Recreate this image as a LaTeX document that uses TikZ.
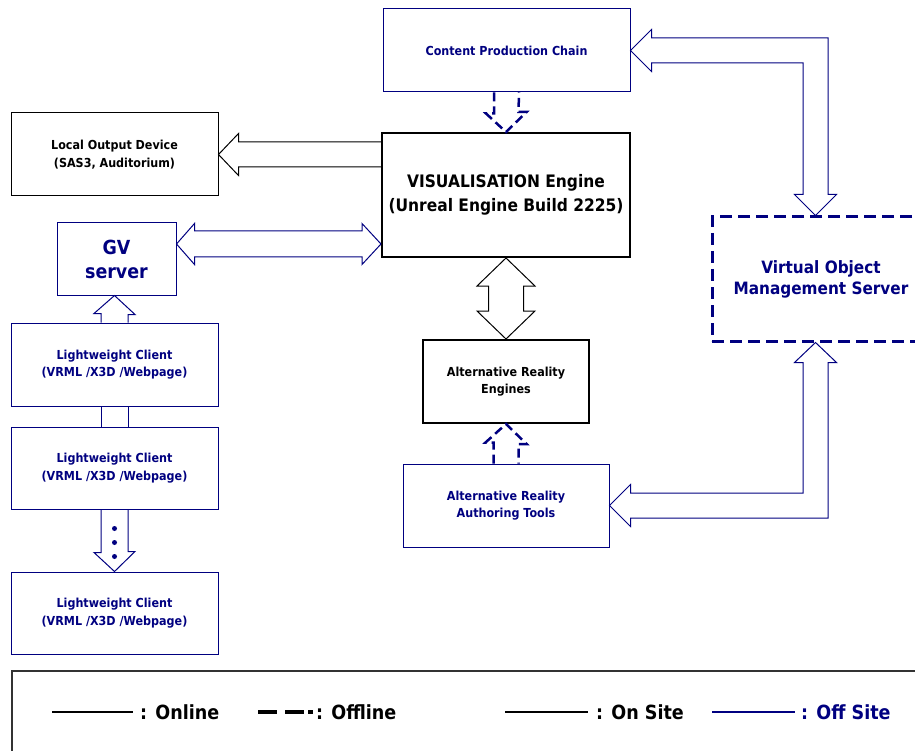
\documentclass[tikz,border=0pt]{standalone}
\usepackage{fontspec}
\setmainfont{DejaVu Sans}[FakeStretch=0.9]
\usetikzlibrary{calc}
\definecolor{offsite}{RGB}{0,0,128}

\tikzset{
  box/.style={rectangle, inner sep=0pt, align=center, font=\bfseries\fontsize{12.4}{17.5}\selectfont},
  onsitebox/.style={box, draw=black, line width=1pt},
  enginebox/.style={box, draw=black, line width=2pt},
  offsitebox/.style={box, draw=offsite, line width=1pt, text=offsite},
  offlinebox/.style={box, draw=offsite, line width=3pt, dash pattern=on 12pt off 6pt, text=offsite},
  onlinearrow/.style={draw=black, line width=1pt, line join=miter},
  remotearrow/.style={draw=offsite, line width=1pt, line join=miter},
  offlinearrow/.style={draw=offsite, line width=2.5pt, dash pattern=on 9pt off 5pt},
  keytext/.style={anchor=west, inner sep=0pt, font=\bfseries\fontsize{19.5}{22}\selectfont},
}

\begin{document}
\begin{tikzpicture}[x=1pt, y=-1pt]
    \useasboundingbox (0,0) rectangle (915,751);

    % boxes
    \node[offsitebox, minimum width=247, minimum height=83] (cpc) at (506.5,50.5) {Content Production Chain};
    \node[enginebox, minimum width=248, minimum height=124, font=\bfseries\fontsize{17.2}{24}\selectfont] (ve) at (506,195) {VISUALISATION Engine\\(Unreal Engine Build 2225)};
    \node[onsitebox, minimum width=207, minimum height=83] (lod) at (114.5,154.5) {Local Output Device\\(SAS3, Auditorium)};
    \node[offsitebox, minimum width=119, minimum height=72, font=\bfseries\fontsize{19.4}{24}\selectfont] (gv) at (116.5,259) {GV\\server};
    \node[offlinebox, minimum width=218, minimum height=124, font=\bfseries\fontsize{17}{21}\selectfont] (voms) at (821,279) {Virtual Object\\Management Server};
    \node[enginebox, minimum width=166, minimum height=83] (are) at (506,381.5) {Alternative Reality\\Engines};
    \node[offsitebox, minimum width=206, minimum height=83] (art) at (506,505.5) {Alternative Reality\\Authoring Tools};
    \node[offsitebox, minimum width=207, minimum height=83] (lc1) at (114.5,364.5) {Lightweight Client\\(VRML /X3D /Webpage)};
    \node[offsitebox, minimum width=207, minimum height=82] (lc2) at (114.5,468) {Lightweight Client\\(VRML /X3D /Webpage)};
    \node[offsitebox, minimum width=207, minimum height=82] (lc3) at (114.5,613) {Lightweight Client\\(VRML /X3D /Webpage)};

    \coordinate (gvport) at ($(gv.east)+(0,-15)$);
    \coordinate (veport) at (ve.west |- gvport);
    \coordinate (vomsin) at ($(voms.north)+(-5.5,0)$);
    \coordinate (vomsout) at ($(voms.south)+(-5.5,0)$);

    % block arrows
    \draw[offlinearrow] ($(cpc.south)+(-12.5,0)$) -- ++(0,21) -- ++(-8,0) -- (ve.north) -- ++(20.5,-20) -- ++(-8,0) -- ($(cpc.south)+(12.5,0)$);
    \draw[onlinearrow] ($(ve.west |- lod.east)+(0,-12.5)$) -- ($(lod.east)+(20,-12.5)$) -- ++(0,-8.5) -- (lod.east) -- ++(20,21) -- ++(0,-8.5) -- ($(ve.west |- lod.east)+(0,12.5)$);
    \draw[remotearrow] (gvport) -- ++(18,-20.5) -- ++(0,7.5) -- ($(veport)+(-19,-13)$) -- ++(0,-7.5) -- (veport) -- ++(-19,20.5) -- ++(0,-7.5) -- ($(gvport)+(18,13)$) -- ++(0,7.5) -- cycle;
    \draw[onlinearrow] (ve.south) -- ++(29,28) -- ++(-11.5,0) -- ($(are.north)+(17.5,-28)$) -- ++(11.5,0) -- (are.north) -- ++(-29,-28) -- ++(11.5,0) -- ($(ve.south)+(-17.5,28)$) -- ++(-11.5,0) -- cycle;
    \draw[offlinearrow] ($(art.north)+(-12.5,0)$) -- ++(0,-21) -- ++(-8,0) -- (are.south) -- ++(20.5,20) -- ++(-8,0) -- ($(art.north)+(12.5,0)$);
    \draw[remotearrow] (cpc.east) -- ++(21,-21) -- ++(0,8.5) -| ($(vomsin)+(12.5,-21)$) -- ++(8.5,0) -- (vomsin) -- ++(-21,-21) -- ++(8.5,0) |- ($(cpc.east)+(21,12.5)$) -- ++(0,8.5) -- cycle;
    \draw[remotearrow] (vomsout) -- ++(21,20) -- ++(-8.5,0) |- ($(art.east)+(21,12.5)$) -- ++(0,8.5) -- (art.east) -- ++(21,-21) -- ++(0,8.5) -| ($(vomsout)+(-12.5,20)$) -- ++(-8.5,0) -- cycle;

    % client chain
    \draw[remotearrow] ($(lc1.north)+(-13.5,0)$) -- ++(0,-9) -- ++(-7,0) -- (lc1.north |- gv.south) -- ++(20.5,19) -- ++(-7,0) -- ($(lc1.north)+(13.5,0)$);
    \draw[remotearrow] ($(lc1.south)+(-13.5,0)$) -- ($(lc2.north)+(-13.5,0)$);
    \draw[remotearrow] ($(lc1.south)+(13.5,0)$) -- ($(lc2.north)+(13.5,0)$);
    \draw[remotearrow] ($(lc2.south)+(-13.5,0)$) -- ++(0,43) -- ++(-7,0) -- (lc3.north) -- ++(20.5,-20) -- ++(-7,0) -- ($(lc2.south)+(13.5,0)$);
    \foreach \dy in {19,33,47}
        \fill[offsite] ($(lc2.south)+(0,\dy)$) circle (2.5);

    % legend
    \draw[line width=1.5pt, black!80] (12,671) rectangle (930,760);
    \node[keytext] (kon) at (140,712) {: Online};
    \node[keytext] (koff) at (316,712) {: Offline};
    \node[keytext] (ksite) at (596,712) {: On Site};
    \node[keytext, text=offsite] (kremote) at (801,712) {: Off Site};
    \draw[line width=2.5pt] ($(kon.west)+(-88,0)$) -- ($(kon.west)+(-7,0)$);
    \draw[line width=4pt, dash pattern=on 19pt off 8pt on 19pt off 4pt on 5pt off 50pt] ($(koff.west)+(-58,0)$) -- ($(koff.west)+(-3,0)$);
    \draw[line width=2.5pt] ($(ksite.west)+(-91,0)$) -- ($(ksite.west)+(-8,0)$);
    \draw[line width=2.5pt, offsite] ($(kremote.west)+(-89,0)$) -- ($(kremote.west)+(-6,0)$);
\end{tikzpicture}
\end{document}
